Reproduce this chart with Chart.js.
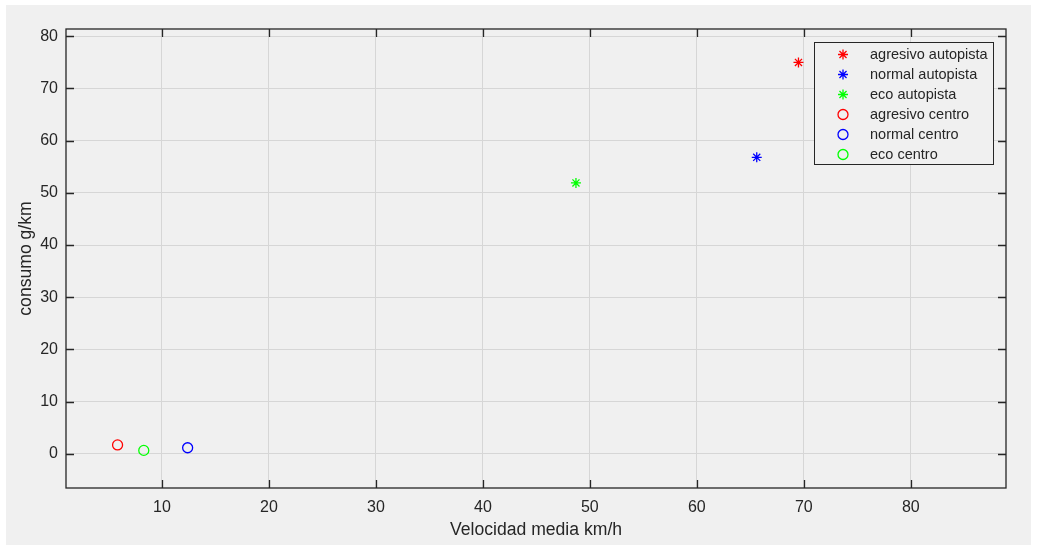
<!DOCTYPE html>
<html lang="es">
<head>
    <meta charset="UTF-8">
    <title>Consumo vs velocidad media</title>
    <script src="https://cdn.jsdelivr.net/npm/chart.js"></script>
    <style>
        body {
            margin: 0;
            background: #ffffff;
        }
        #panel {
            position: absolute;
            left: 6px;
            top: 5px;
            width: 1025px;
            height: 540px;
            background: #f0f0f0;  /* figure background */
        }
        #wrap {
            position: absolute;
            left: 0;
            top: 0;
            width: 1037px;
            height: 549px;
        }
    </style>
</head>
<body>
    <div id="panel"></div>
    <div id="wrap"><canvas id="plot" width="1037" height="549"></canvas></div>

    <script>
        // series, in legend order
        const seriesNames = ['agresivo autopista', 'normal autopista', 'eco autopista',
                             'agresivo centro', 'normal centro', 'eco centro'];
        const velocidad = [69.5, 65.6, 48.7, 5.85, 12.4, 8.3];   // km/h
        const consumo   = [75.0, 56.8, 51.9, 1.7, 1.15, 0.65];   // g/km
        const colores   = ['#ff0000', '#0000ff', '#00ff00', '#ff0000', '#0000ff', '#00ff00'];
        const marcas    = ['star', 'star', 'star', 'circle', 'circle', 'circle'];

        const xTicks = [10, 20, 30, 40, 50, 60, 70, 80];
        const yTicks = [0, 10, 20, 30, 40, 50, 60, 70, 80];

        const axisColor = '#262626';
        const tickFont = { family: 'Liberation Sans, Arial, sans-serif', size: 16 };
        const labelFont = { family: 'Liberation Sans, Arial, sans-serif', size: 17.6 };

        const datasets = seriesNames.map((name, i) => ({
            label: name,
            data: [{ x: velocidad[i], y: consumo[i] }],
            pointStyle: marcas[i],
            pointRadius: marcas[i] === 'star' ? 5 : 5,
            pointBorderColor: colores[i],
            pointBackgroundColor: 'rgba(0,0,0,0)',
            pointBorderWidth: 1.3,
            showLine: false
        }));

        // box around the axes with inward tick marks on all four sides
        const boxPlugin = {
            id: 'axesBox',
            beforeDatasetsDraw(chart) {
                const { ctx, chartArea: a, scales } = chart;
                const len = 8;
                ctx.save();
                ctx.strokeStyle = axisColor;
                ctx.lineWidth = 1.3;
                ctx.strokeRect(a.left, a.top, a.right - a.left, a.bottom - a.top);
                ctx.beginPath();
                scales.x.ticks.forEach(t => {
                    const px = Math.round(scales.x.getPixelForValue(t.value)) + 0.5;
                    ctx.moveTo(px, a.bottom); ctx.lineTo(px, a.bottom - len);
                    ctx.moveTo(px, a.top); ctx.lineTo(px, a.top + len);
                });
                scales.y.ticks.forEach(t => {
                    const py = Math.round(scales.y.getPixelForValue(t.value)) + 0.5;
                    ctx.moveTo(a.left, py); ctx.lineTo(a.left + len, py);
                    ctx.moveTo(a.right, py); ctx.lineTo(a.right - len, py);
                });
                ctx.stroke();
                ctx.restore();
            }
        };

        // legend box in the upper right corner of the axes
        const legendPlugin = {
            id: 'boxLegend',
            afterDraw(chart) {
                const { ctx, chartArea: a } = chart;
                const w = 179, h = 122;
                const x0 = a.right - 13 - w, y0 = a.top + 13;
                ctx.save();
                ctx.fillStyle = '#f0f0f0';
                ctx.fillRect(x0, y0, w, h);
                ctx.strokeStyle = axisColor;
                ctx.lineWidth = 1;
                ctx.strokeRect(x0 + 0.5, y0 + 0.5, w, h);
                ctx.font = '14.5px "Liberation Sans", Arial, sans-serif';
                ctx.textBaseline = 'middle';
                chart.data.datasets.forEach((ds, i) => {
                    const cy = y0 + 12.5 + i * 20;
                    ctx.strokeStyle = ds.pointBorderColor;
                    ctx.fillStyle = 'rgba(0,0,0,0)';
                    ctx.lineWidth = 1.3;
                    Chart.helpers.drawPoint(ctx, {
                        pointStyle: ds.pointStyle, radius: 5, rotation: 0, borderWidth: 1.3
                    }, x0 + 29, cy);
                    ctx.fillStyle = axisColor;
                    ctx.fillText(ds.label, x0 + 56, cy);
                });
                ctx.restore();
            }
        };

        new Chart(document.getElementById('plot'), {
            type: 'scatter',
            data: { datasets },
            options: {
                responsive: false,
                animation: false,
                layout: { padding: { top: 29, right: 31, left: 0, bottom: 0 } },
                plugins: { legend: { display: false }, tooltip: { enabled: false } },
                scales: {
                    x: {
                        type: 'linear',
                        min: 1.03,
                        max: 88.9,
                        afterFit(scale) { scale.height = 61; },
                        afterBuildTicks(scale) { scale.ticks = xTicks.map(v => ({ value: v })); },
                        grid: { color: '#d6d6d6', drawTicks: false },
                        border: { display: false },
                        ticks: { color: axisColor, font: tickFont, padding: 10, maxRotation: 0 },
                        title: {
                            display: true, text: 'Velocidad media km/h',
                            color: axisColor, font: labelFont, padding: { top: 0, bottom: 8.5 }
                        }
                    },
                    y: {
                        type: 'linear',
                        min: -6.56,
                        max: 81.4,
                        afterFit(scale) { scale.width = 66; },
                        afterBuildTicks(scale) { scale.ticks = yTicks.map(v => ({ value: v })); },
                        grid: { color: '#d6d6d6', drawTicks: false },
                        border: { display: false },
                        ticks: { color: axisColor, font: tickFont, padding: 8 },
                        title: {
                            display: true, text: 'consumo g/km',
                            color: axisColor, font: labelFont, padding: { top: 16, bottom: 0 }
                        }
                    }
                }
            },
            plugins: [boxPlugin, legendPlugin]
        });
    </script>
</body>
</html>
